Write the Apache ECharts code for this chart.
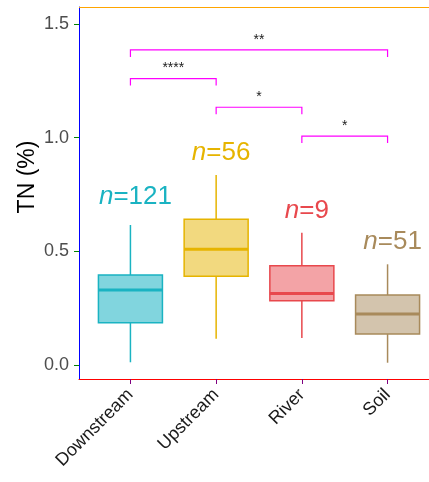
<!DOCTYPE html>
<html><head><meta charset="utf-8">
<script src="https://cdn.jsdelivr.net/npm/echarts@6/dist/echarts.min.js"></script>
<style>html,body{margin:0;padding:0;background:#fff}#c{width:429px;height:482px}</style>
</head><body><div id="c"></div>
<script>
const categories = ['Downstream', 'Upstream', 'River', 'Soil'];
const categoryPositions = [0, 1, 2, 3];
const boxDownstream = [0.012, 0.186, 0.330, 0.396, 0.616];
const boxUpstream = [0.116, 0.390, 0.509, 0.641, 0.836];
const boxRiver = [0.119, 0.283, 0.315, 0.437, 0.582];
const boxSoil = [0.010, 0.136, 0.224, 0.308, 0.443];
const counts = [121, 56, 9, 51];
const countLabelY = [0.739, 0.933, 0.677, 0.542];
const yTicks = [0, 0.5, 1.0, 1.5];
const compFrom = [0, 0, 1, 2];
const compTo = [3, 1, 2, 3];
const compY = [1.386, 1.260, 1.134, 1.007];
const compSig = ['**', '****', '*', '*'];
const strokeColors = ['#1AB3C2', '#E6B400', '#E8484D', '#A88A5B'];
const fillColors = ['rgba(26,179,194,0.55)', 'rgba(230,180,0,0.5)', 'rgba(232,72,77,0.5)', 'rgba(168,138,91,0.5)'];
const boxes = [boxDownstream, boxUpstream, boxRiver, boxSoil];
const yMin = -0.0616, yMax = 1.575;
const xMin = -0.6, xMax = 3.6;
const FONT = 'Liberation Sans, Arial, sans-serif';

const chart = echarts.init(document.getElementById('c'));
chart.setOption({
  animation: false,
  grid: [{left: 79, top: 7, width: 360, height: 372, outerBoundsMode: 'none'}],
  xAxis: [
    {type: 'value', min: xMin, max: xMax,
     axisLine: {show: true, onZero: false, lineStyle: {color: 'red', width: 1}},
     axisTick: {show: true, length: 5, customValues: categoryPositions, lineStyle: {color: 'purple'}},
     axisLabel: {customValues: categoryPositions, formatter: v => categories[Math.round(v)], rotate: 45, margin: 13, fontSize: 18, color: '#1a1a1a', fontFamily: FONT},
     splitLine: {show: false}}
  ],
  yAxis: [
    {type: 'value', min: yMin, max: yMax,
     axisLine: {show: true, onZero: false, lineStyle: {color: 'blue', width: 1}},
     axisTick: {show: true, length: 5, customValues: yTicks, lineStyle: {color: 'green'}},
     axisLabel: {customValues: yTicks, formatter: v => v.toFixed(1), fontSize: 18, color: '#4d4d4d', margin: 10, fontFamily: FONT},
     splitLine: {show: false},
     name: 'TN (%)', nameLocation: 'middle', nameGap: 40, nameRotate: 90, nameMoveOverlap: false,
     nameTextStyle: {fontSize: 23, color: '#000', fontFamily: FONT, padding: [0, 0, 0, 32]}}
  ],
  series: [
    {
      type: 'custom', xAxisIndex: 0, yAxisIndex: 0,
      data: [[xMin, xMax, yMax]],
      renderItem: function (params, api) {
        const a = api.coord([api.value(0), api.value(2)]);
        const b = api.coord([api.value(1), api.value(2)]);
        return {type: 'line', shape: {x1: a[0], y1: a[1] + 0.5, x2: b[0], y2: b[1] + 0.5}, style: {stroke: 'orange', lineWidth: 1}};
      }
    },
    {
      type: 'custom', xAxisIndex: 0, yAxisIndex: 0,
      data: boxes.map((b, i) => [categoryPositions[i]].concat(b)),
      renderItem: function (params, api) {
        const i = params.dataIndex;
        const x = api.value(0);
        const pMin = api.coord([x, api.value(1)]);
        const pQ1 = api.coord([x, api.value(2)]);
        const pMed = api.coord([x, api.value(3)]);
        const pQ3 = api.coord([x, api.value(4)]);
        const pMax = api.coord([x, api.value(5)]);
        const hw = 32;
        const cx = pMed[0];
        const st = {stroke: strokeColors[i], lineWidth: 1.5};
        return {type: 'group', children: [
          {type: 'line', shape: {x1: cx, y1: pMin[1], x2: cx, y2: pQ1[1]}, style: st},
          {type: 'line', shape: {x1: cx, y1: pQ3[1], x2: cx, y2: pMax[1]}, style: st},
          {type: 'rect', shape: {x: cx - hw, y: pQ3[1], width: hw * 2, height: pQ1[1] - pQ3[1]},
           style: {fill: fillColors[i], stroke: strokeColors[i], lineWidth: 1.5}},
          {type: 'line', shape: {x1: cx - hw, y1: pMed[1], x2: cx + hw, y2: pMed[1]}, style: {stroke: strokeColors[i], lineWidth: 3}}
        ]};
      }
    },
    {
      type: 'custom', xAxisIndex: 0, yAxisIndex: 0,
      data: counts.map((n, i) => [categoryPositions[i], countLabelY[i], n]),
      renderItem: function (params, api) {
        const p = api.coord([api.value(0), api.value(1)]);
        const i = params.dataIndex;
        return {type: 'text', x: p[0] + 5, y: p[1], style: {
          text: '{n|n}{r|=' + api.value(2) + '}', align: 'center', verticalAlign: 'middle',
          rich: {n: {fontStyle: 'italic', fontSize: 26, fill: strokeColors[i], fontFamily: FONT},
                 r: {fontSize: 26, fill: strokeColors[i], fontFamily: FONT}}
        }};
      }
    },
    {
      type: 'custom', xAxisIndex: 0, yAxisIndex: 0,
      data: compFrom.map((f, i) => [categoryPositions[f], categoryPositions[compTo[i]], compY[i]]),
      renderItem: function (params, api) {
        const a = api.coord([api.value(0), api.value(2)]);
        const b = api.coord([api.value(1), api.value(2)]);
        const tip = 7;
        return {type: 'group', children: [
          {type: 'polyline', shape: {points: [[a[0], a[1] + tip], a, b, [b[0], b[1] + tip]]}, style: {stroke: 'magenta', lineWidth: 1.2, fill: null}},
          {type: 'text', x: (a[0] + b[0]) / 2, y: a[1] - 3, style: {text: compSig[params.dataIndex], align: 'center', verticalAlign: 'bottom', fontSize: 14, fill: '#1a1a1a', fontFamily: FONT}}
        ]};
      }
    }
  ]
});
</script></body></html>
